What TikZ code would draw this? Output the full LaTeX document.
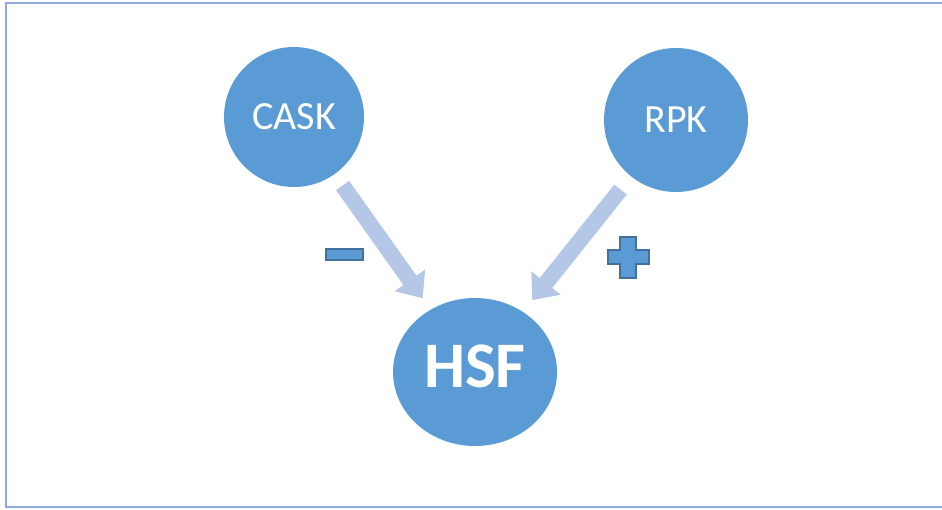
\documentclass[tikz,border=0pt]{standalone}
\usepackage{fontspec}
\setmainfont{Carlito}
\usetikzlibrary{shapes.geometric,arrows.meta}
\definecolor{nodeblue}{HTML}{5B9BD5}
\definecolor{arrowblue}{HTML}{B4C7E7}
\definecolor{signedge}{HTML}{41719C}
\definecolor{framecol}{HTML}{8FAADC}
\tikzset{
  bubble/.style={circle, fill=nodeblue, inner sep=0pt, outer sep=0pt, text=white, font=\fontsize{40}{42}\selectfont},
  bigbubble/.style={ellipse, fill=nodeblue, inner sep=0pt, outer sep=0pt, minimum width=164pt, minimum height=148pt, text=white, font=\fontsize{65}{67}\selectfont\bfseries, text depth=12pt},
  blockarrow/.style={draw=arrowblue, line width=16pt, -{Triangle[width=36pt,length=22pt]}},
  signshape/.style={fill=nodeblue, draw=signedge, line width=1.8pt}
}
\begin{document}
\begin{tikzpicture}[x=1pt,y=-1pt]
\useasboundingbox (0,0) rectangle (942,509);
\draw[framecol, line width=2pt] (6,3) rectangle (960,506.5);
\node[bubble, minimum size=140pt] (cask) at (294,117) {CASK};
\node[bubble, minimum size=144pt] (rpk) at (676,120) {RPK};
\node[bigbubble] (hsf) at (475,372) {HSF};
\draw[blockarrow, shorten <=14pt, shorten >=14pt] (cask) -- (hsf);
\draw[blockarrow, shorten <=17pt, shorten >=15pt] (rpk) -- (hsf);
\node[signshape, rectangle, minimum width=37pt, minimum height=11pt, inner sep=0pt] (minus) at (344.5,254.5) {};
\path[signshape] (620,237) -- (636,237) -- (636,250) -- (649,250) -- (649,264) -- (636,264) -- (636,278) -- (620,278) -- (620,264) -- (608,264) -- (608,250) -- (620,250) -- cycle;
\coordinate (plus) at (628,257);
\end{tikzpicture}
\end{document}
